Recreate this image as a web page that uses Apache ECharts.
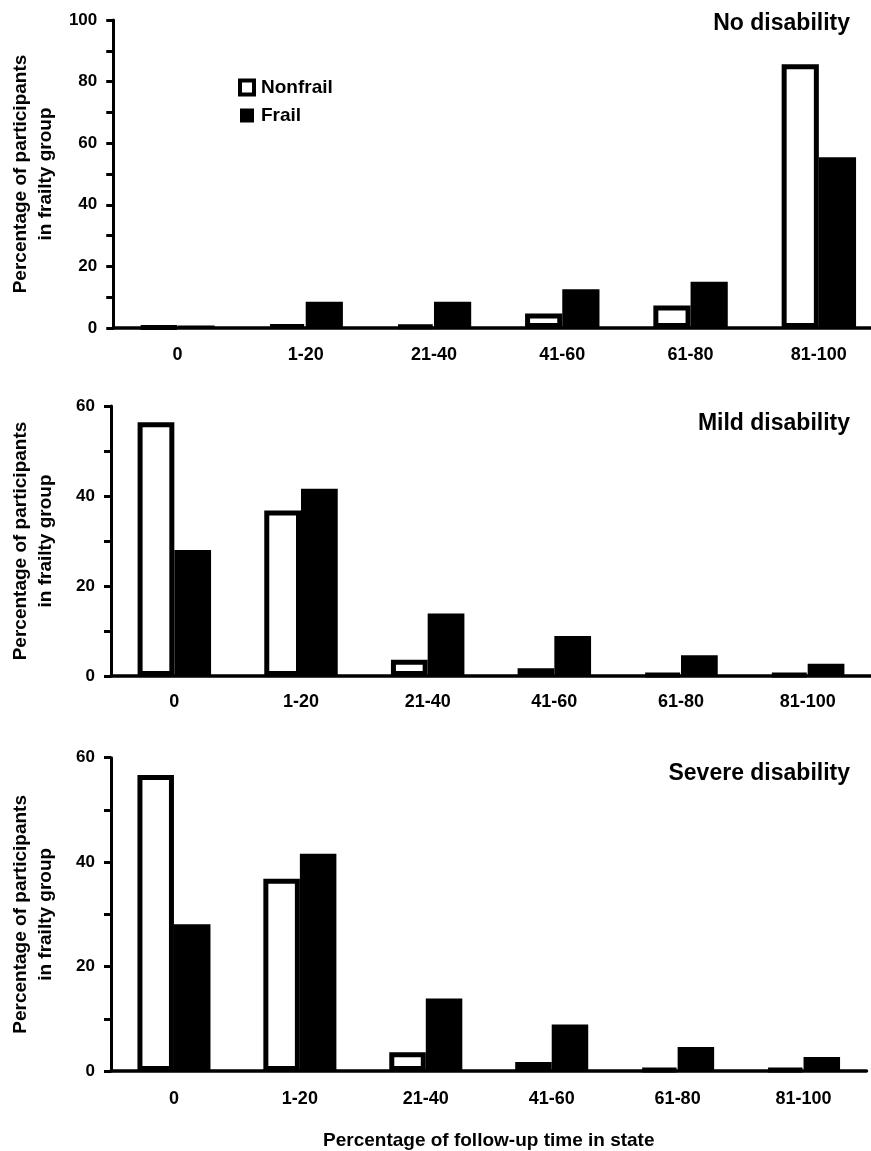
<!DOCTYPE html>
<html>
<head>
<meta charset="utf-8">
<script src="https://cdn.jsdelivr.net/npm/echarts@6/dist/echarts.min.js"></script>
<style>
  html, body { margin: 0; padding: 0; background: #fff; overflow: hidden; }
  /* 画布比窗口略宽，第一幅图的横轴延伸到右边界之外 */
  #main { width: 883px; height: 1151px; }
</style>
</head>
<body>
<div id="main"></div>
<script>
/*
 * 数据
 */
var categories = ['0', '1-20', '21-40', '41-60', '61-80', '81-100'];
var panelTitles = ['No disability', 'Mild disability', 'Severe disability'];

var noDisNonfrail = [0.3, 1.0, 0.8, 4.7, 7.3, 85.6];
var noDisFrail = [0.8, 8.5, 8.5, 12.6, 15.0, 55.4];

var mildNonfrail = [56.4, 36.8, 3.6, 1.7, 0.4, 0.4];
var mildFrail = [28.0, 41.6, 13.9, 8.9, 4.6, 2.7];

var severeNonfrail = [56.7, 36.8, 3.6, 1.7, 0.4, 0.4];
var severeFrail = [28.1, 41.6, 13.9, 8.9, 4.6, 2.7];

var yMax = [100, 60, 60];

var font = "'Liberation Sans', Arial, sans-serif";
var chart = echarts.init(document.getElementById('main'));

/*
 * 三个面板的位置
 */
var grids = [
	{ left: 111.7, top: 20, right: 0, height: 308 },
	{ left: 111, top: 406, right: 12, height: 270 },
	{ left: 110.5, top: 757.7, right: 16.5, height: 325 }
];
var titleTops = [7, 407, 757];
var labelMargins = [18, 17, 19];

var xAxes = [], yAxes = [], titles = [];
for (var i = 0; i < 3; i++) {
	xAxes.push({
		type: 'category',
		gridIndex: i,
		data: categories,
		axisLine: { lineStyle: { color: '#000', width: 3.5 } },
		axisTick: { length: 6, lineStyle: { color: '#000', width: 3 } },
		axisLabel: { color: '#000', fontSize: 18, fontWeight: 'bold', fontFamily: font, margin: labelMargins[i], interval: 0 },
		name: i === 2 ? 'Percentage of follow-up time in state' : '',
		nameLocation: 'middle',
		nameGap: 60,
		nameTextStyle: { color: '#000', fontSize: 19, fontWeight: 'bold', fontFamily: font }
	});
	yAxes.push({
		type: 'value',
		gridIndex: i,
		min: 0,
		max: yMax[i],
		interval: 10,
		splitLine: { show: false },
		axisLine: { show: true, lineStyle: { color: '#000', width: 3 } },
		axisTick: { show: true, length: 7, lineStyle: { color: '#000', width: 3 } },
		axisLabel: {
			color: '#000', fontSize: 17, fontWeight: 'bold', fontFamily: font, margin: 16,
			formatter: function (v) { return v % 20 === 0 ? v : ''; }
		},
		name: 'Percentage of participants\nin frailty group',
		nameLocation: 'middle',
		nameRotate: 90,
		nameGap: 53,
		nameTextStyle: { color: '#000', fontSize: 19, fontWeight: 'bold', fontFamily: font, lineHeight: 25 }
	});
	titles.push({
		text: panelTitles[i],
		right: 28,
		top: titleTops[i],
		textStyle: { color: '#000', fontSize: 23, fontWeight: 'bold', fontFamily: font }
	});
}

function nonfrailSeries(idx, data) {
	return {
		name: 'Nonfrail', type: 'bar', xAxisIndex: idx, yAxisIndex: idx,
		data: data, barWidth: '29%', barGap: '0%',
		itemStyle: { color: '#fff', borderColor: '#000', borderWidth: 5, borderJoin: 'miter' },
		emphasis: { disabled: true }
	};
}
function frailSeries(idx, data) {
	return {
		name: 'Frail', type: 'bar', xAxisIndex: idx, yAxisIndex: idx,
		data: data, barWidth: '29%', barGap: '0%',
		itemStyle: { color: '#000' },
		emphasis: { disabled: true }
	};
}

option = {
	animation: false,
	backgroundColor: '#fff',
	title: titles,
	legend: {
		data: [
			{ name: 'Nonfrail', itemStyle: { color: '#fff', borderColor: '#000', borderWidth: 4, borderJoin: 'miter' } },
			{ name: 'Frail', itemStyle: { color: '#000' } }
		],
		icon: 'rect',
		orient: 'vertical',
		left: 238,
		top: 78,
		padding: 0,
		itemWidth: 14,
		itemHeight: 14,
		itemGap: 9,
		textStyle: { color: '#000', fontSize: 19, fontWeight: 'bold', fontFamily: font, padding: [0, 0, 0, 2] }
	},
	grid: grids,
	xAxis: xAxes,
	yAxis: yAxes,
	series: [
		nonfrailSeries(0, noDisNonfrail), frailSeries(0, noDisFrail),
		nonfrailSeries(1, mildNonfrail), frailSeries(1, mildFrail),
		nonfrailSeries(2, severeNonfrail), frailSeries(2, severeFrail)
	]
};
chart.setOption(option, true);
</script>
</body>
</html>
